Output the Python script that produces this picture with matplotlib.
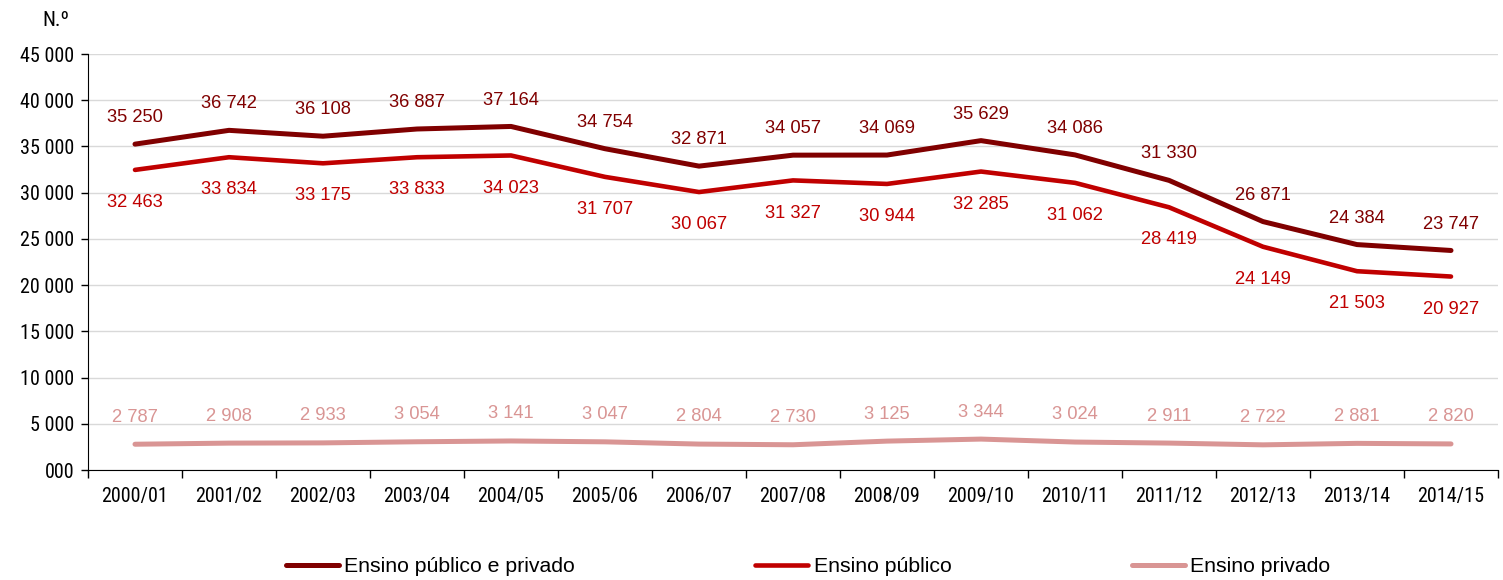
import matplotlib
matplotlib.use("Agg")
import matplotlib.pyplot as plt
from matplotlib.ticker import FixedLocator
from matplotlib import font_manager

plt.rcParams['font.family'] = ['Liberation Sans', 'DejaVu Sans']

categories = ["2000/01", "2001/02", "2002/03", "2003/04", "2004/05", "2005/06", "2006/07",
              "2007/08", "2008/09", "2009/10", "2010/11", "2011/12", "2012/13", "2013/14", "2014/15"]
total = [35250, 36742, 36108, 36887, 37164, 34754, 32871, 34057, 34069, 35629, 34086, 31330, 26871, 24384, 23747]
publico = [32463, 33834, 33175, 33833, 34023, 31707, 30067, 31327, 30944, 32285, 31062, 28419, 24149, 21503, 20927]
privado = [2787, 2908, 2933, 3054, 3141, 3047, 2804, 2730, 3125, 3344, 3024, 2911, 2722, 2881, 2820]
series_names = ["Ensino público e privado", "Ensino público", "Ensino privado"]
yticks = [0, 5000, 10000, 15000, 20000, 25000, 30000, 35000, 40000, 45000]
ytick_labels = ["000", "5 000", "10 000", "15 000", "20 000", "25 000", "30 000", "35 000", "40 000", "45 000"]

c_dark = "#800000"
c_red = "#C00000"
c_pink = "#D99594"

installed = {f.name for f in font_manager.fontManager.ttflist}
if 'Roboto Condensed' in installed:
    narrow = ['Roboto Condensed', 'Liberation Sans']
    tick_fs = 14.5
else:
    narrow = ['Liberation Sans']
    tick_fs = 12.8

def fmt(v):
    return f"{v:,}".replace(",", " ")

fig = plt.figure(figsize=(15.03, 5.8), dpi=100)
ax = fig.add_axes([88/1503, 1-470/580, 1410/1503, 416/580])

x = list(range(len(categories)))
ax.plot(x, total, color=c_dark, lw=3.6, solid_capstyle='round', label=series_names[0], zorder=3)
ax.plot(x, publico, color=c_red, lw=3.3, solid_capstyle='round', label=series_names[1], zorder=3)
ax.plot(x, privado, color=c_pink, lw=3.6, solid_capstyle='round', label=series_names[2], zorder=3)

fs = 13.2
for xi, v in zip(x, total):
    ax.annotate(fmt(v), (xi, v), xytext=(0, 19), textcoords='offset points',
                ha='center', va='center', color=c_dark, fontsize=fs)
for xi, v in zip(x, publico):
    ax.annotate(fmt(v), (xi, v), xytext=(0, -23.5), textcoords='offset points',
                ha='center', va='center', color=c_red, fontsize=fs)
for xi, v in zip(x, privado):
    ax.annotate(fmt(v), (xi, v), xytext=(0, 19.5), textcoords='offset points',
                ha='center', va='center', color=c_pink, fontsize=fs)

ax.set_xlim(-0.5, len(categories) - 0.5)
ax.set_ylim(0, 45000)
ax.set_yticks(yticks)
ax.set_yticklabels(ytick_labels, fontsize=tick_fs, family=narrow)
ax.yaxis.grid(True, color="#D9D9D9", lw=1.0)
ax.set_axisbelow(True)

ax.set_xticks(x)
ax.set_xticklabels(categories, fontsize=tick_fs, family=narrow)
ax.xaxis.set_minor_locator(FixedLocator([i - 0.5 for i in range(len(categories) + 1)]))
ax.tick_params(axis='x', which='major', length=0, pad=12)
ax.tick_params(axis='x', which='minor', length=6, width=1, color='black')
ax.tick_params(axis='y', length=5, width=1, color='black', pad=5)

for s in ['top', 'right']:
    ax.spines[s].set_visible(False)
ax.spines['left'].set_color('black')
ax.spines['bottom'].set_color('black')

fig.text(42/1503, 1-20/580, "N.º", fontsize=tick_fs + 0.5, family=narrow, va='center', ha='left')

leg = fig.legend(loc='center', bbox_to_anchor=(808/1503, 1-567/580), ncol=3, frameon=False,
                 fontsize=15.3, handlelength=2.5, handletextpad=0.24, columnspacing=8.5)

fig.savefig("out.png", dpi=100)
